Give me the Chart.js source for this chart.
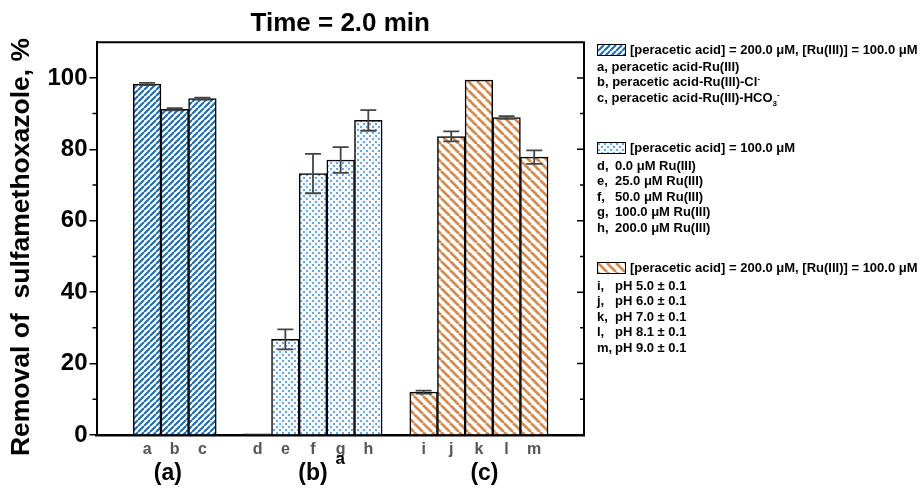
<!DOCTYPE html>
<html>
<head>
<meta charset="utf-8">
<script src="https://cdn.jsdelivr.net/npm/chart.js@4.4.1/dist/chart.umd.min.js"></script>
<style>
  body { margin: 0; background: #fff; }
  #wrap { position: relative; width: 921px; height: 493px; font-family: "Liberation Sans", Arial, sans-serif; }
  .lg { position: absolute; left: 597px; font-weight: bold; font-size: 13px; line-height: 15.4px; white-space: pre; color: #000; }
  .hd { display: flex; align-items: center; height: 16px; }
  .hd canvas { border: 1px solid #000; margin-right: 4px; }
  .k { display: inline-block; width: 18px; }
  sup, sub { font-size: 8px; line-height: 0; }
</style>
</head>
<body>
<div id="wrap">
  <canvas id="chart" width="921" height="493"></canvas>

  <div class="lg" style="top:42px"><div class="hd"><canvas class="sw" data-p="0" width="27" height="10"></canvas>[peracetic acid] = 200.0 μM, [Ru(III)] = 100.0 μM</div></div>
  <div class="lg" style="top:59px">a, peracetic acid-Ru(III)
b, peracetic acid-Ru(III)-Cl<sup>-</sup>
c, peracetic acid-Ru(III)-HCO<sub>3</sub><sup>-</sup></div>

  <div class="lg" style="top:140px"><div class="hd"><canvas class="sw" data-p="1" width="27" height="10"></canvas>[peracetic acid] = 100.0 μM</div></div>
  <div class="lg" style="top:158px"><span class="k">d,</span>0.0 μM Ru(III)
<span class="k">e,</span>25.0 μM Ru(III)
<span class="k">f,</span>50.0 μM Ru(III)
<span class="k">g,</span>100.0 μM Ru(III)
<span class="k">h,</span>200.0 μM Ru(III)</div>

  <div class="lg" style="top:260px"><div class="hd"><canvas class="sw" data-p="2" width="27" height="10"></canvas>[peracetic acid] = 200.0 μM, [Ru(III)] = 100.0 μM</div></div>
  <div class="lg" style="top:278px"><span class="k">i,</span>pH 5.0 ± 0.1
<span class="k">j,</span>pH 6.0 ± 0.1
<span class="k">k,</span>pH 7.0 ± 0.1
<span class="k">l,</span>pH 8.1 ± 0.1
<span class="k">m,</span>pH 9.0 ± 0.1</div>
</div>

<script>
const labels = ['a', 'b', 'c', 'd', 'e', 'f', 'g', 'h', 'i', 'j', 'k', 'l', 'm'];
const xPos = [0, 1, 2, 4, 5, 6, 7, 8, 10, 11, 12, 13, 14];
const removal = [98.3, 91.2, 94.2, 0.3, 26.8, 73.2, 77.0, 88.1, 12.0, 83.6, 99.4, 88.9, 77.8];
const errors = [0.3, 0.3, 0.3, 0, 2.8, 5.5, 3.6, 2.9, 0.4, 1.4, 0, 0.4, 1.9];
const groupOfBar = [0, 0, 0, 1, 1, 1, 1, 1, 2, 2, 2, 2, 2];
const groupLabels = ['(a)', '(b)', '(c)'];
const groupLabelPos = [0.75, 6, 12.2];
const yTitle = 'Removal of  sulfamethoxazole, %';

const family = '"Liberation Sans", Arial, sans-serif';
Chart.defaults.font.family = family;
Chart.defaults.color = '#000';

// hatch / dot fills
function stripes(color, s, lw, dir) {
  const c = document.createElement('canvas');
  c.width = s; c.height = s;
  const g = c.getContext('2d');
  g.fillStyle = '#fff';
  g.fillRect(0, 0, s, s);
  g.strokeStyle = color;
  g.lineWidth = lw;
  g.beginPath();
  for (let k = -1; k <= 1; k++) {
    if (dir === '/') { g.moveTo(k * s, s); g.lineTo(k * s + s, 0); }
    else { g.moveTo(k * s, 0); g.lineTo(k * s + s, s); }
  }
  g.stroke();
  return g.createPattern(c, 'repeat');
}
function dots(color, s) {
  const c = document.createElement('canvas');
  c.width = s; c.height = s;
  const g = c.getContext('2d');
  g.fillStyle = '#f6f9fd';
  g.fillRect(0, 0, s, s);
  g.fillStyle = color;
  g.fillRect(0, 0, 2, 2);
  g.fillRect(s / 2, s / 2, 2, 2);
  return g.createPattern(c, 'repeat');
}

const fills = [
  stripes('#1b6db5', 6, 2.1, '/'),
  dots('#6fa6dc', 6),
  stripes('#d28c52', 9, 2.8, '\\')
];

document.querySelectorAll('.sw').forEach(sw => {
  const g = sw.getContext('2d');
  g.fillStyle = fills[+sw.dataset.p];
  g.fillRect(0, 0, sw.width, sw.height);
});

const extras = {
  id: 'extras',
  afterDatasetsDraw(chart) {
    const { ctx, scales: { x, y } } = chart;
    ctx.save();
    ctx.strokeStyle = '#444';
    ctx.lineWidth = 1.8;
    removal.forEach((v, i) => {
      if (!errors[i]) return;
      const px = x.getPixelForValue(xPos[i]);
      const top = y.getPixelForValue(v + errors[i]);
      const bot = y.getPixelForValue(v - errors[i]);
      ctx.beginPath();
      ctx.moveTo(px, top); ctx.lineTo(px, bot);
      ctx.moveTo(px - 8, top); ctx.lineTo(px + 8, top);
      ctx.moveTo(px - 8, bot); ctx.lineTo(px + 8, bot);
      ctx.stroke();
    });
    ctx.restore();
  },
  afterDraw(chart) {
    const { ctx, chartArea: a, scales: { x, y } } = chart;
    ctx.save();
    // top and right frame
    ctx.strokeStyle = '#000';
    ctx.lineWidth = 2;
    ctx.beginPath();
    ctx.moveTo(a.left, a.top); ctx.lineTo(a.right, a.top); ctx.lineTo(a.right, a.bottom);
    ctx.stroke();
    // right ticks (inward) and left minor ticks
    ctx.lineWidth = 1.5;
    ctx.beginPath();
    for (let v = 10; v <= 100; v += 10) {
      const py = y.getPixelForValue(v);
      const major = v % 20 === 0;
      ctx.moveTo(a.right, py); ctx.lineTo(a.right - (major ? 7 : 4), py);
      if (!major) { ctx.moveTo(a.left, py); ctx.lineTo(a.left - 4, py); }
    }
    ctx.stroke();
    // axis titles and group labels
    ctx.fillStyle = '#000';
    ctx.textAlign = 'center';
    ctx.textBaseline = 'middle';
    ctx.font = 'bold 17px ' + family;
    ctx.fillText('a', (a.left + a.right) / 2, 459);
    ctx.font = 'bold 23px ' + family;
    groupLabels.forEach((t, i) => ctx.fillText(t, x.getPixelForValue(groupLabelPos[i]), 474));
    ctx.translate(22, 247);
    ctx.rotate(-Math.PI / 2);
    ctx.font = 'bold 26.5px ' + family;
    ctx.fillText(yTitle, 0, 0);
    ctx.restore();
  }
};

new Chart(document.getElementById('chart').getContext('2d'), {
  type: 'bar',
  data: {
    datasets: [{
      data: xPos.map((p, i) => ({ x: p, y: removal[i] })),
      backgroundColor: groupOfBar.map(g => fills[g]),
      borderColor: '#000',
      borderWidth: 1.5,
      barPercentage: 1,
      categoryPercentage: 1
    }]
  },
  options: {
    responsive: false,
    animation: false,
    layout: { padding: { right: 337 } },
    plugins: {
      legend: { display: false },
      tooltip: { enabled: false },
      title: {
        display: true,
        text: 'Time = 2.0 min',
        fullSize: false,
        color: '#000',
        font: { size: 26, weight: 'bold' },
        padding: { top: 8, bottom: 3 }
      }
    },
    scales: {
      x: {
        type: 'linear',
        offset: false,
        min: -1.83,
        max: 15.8,
        grid: { display: false, drawTicks: false },
        border: { color: '#000', width: 2.5 },
        ticks: {
          stepSize: 1,
          autoSkip: false,
          maxRotation: 0,
          padding: 5,
          color: '#555',
          font: { size: 16, weight: 'bold' },
          callback: v => { const i = xPos.indexOf(v); return i < 0 ? '' : labels[i]; }
        },
        afterFit: s => { s.height = 58; }
      },
      y: {
        min: 0,
        max: 110,
        grid: {
          drawOnChartArea: false,
          tickLength: 7,
          lineWidth: 1.5,
          color: c => (c.tick && c.tick.value % 20 !== 0) ? 'rgba(0,0,0,0)' : '#000'
        },
        border: { color: '#000', width: 2 },
        ticks: {
          stepSize: 20,
          padding: 2,
          color: '#000',
          font: { size: 24, weight: 'bold' },
          callback: v => v % 20 === 0 ? v : ''
        },
        afterFit: s => { s.width = 96.5; }
      }
    }
  },
  plugins: [extras]
});
</script>
</body>
</html>
